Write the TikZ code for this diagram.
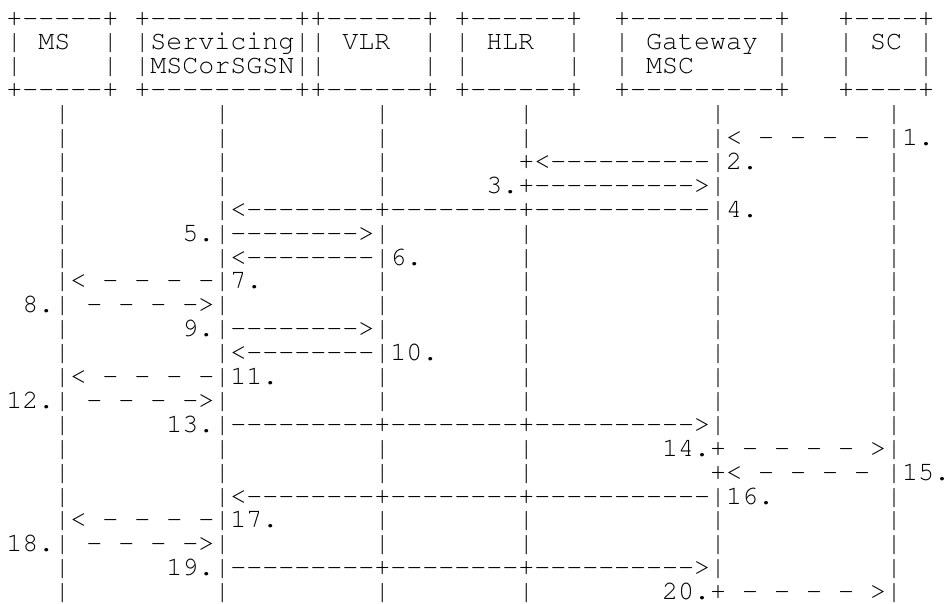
\documentclass[tikz,border=0pt]{standalone}
\usepackage[T1,TU]{fontenc}
\usepackage{tikz}

% a run of hyphens that the font may not join into dashes
\newcommand\dashrun[1]{\foreach\n in {1,...,#1}{-\kern0pt}}

\begin{document}
\begin{tikzpicture}[x=8pt,y=-11.95pt,
  ascii/.style={anchor=base west,inner sep=0pt,
                font=\fontencoding{T1}\fontfamily{pcr}\fontseries{m}\fontshape{n}%
                     \fontsize{13.33pt}{12pt}\selectfont}]

  \useasboundingbox (-0.375,-0.088) rectangle (58.875,25.184);

  % Entity boxes
  \node[ascii] (boxtop)   at (0,1) {+\dashrun{5}+~+\dashrun{9}++\dashrun{6}+~+\dashrun{6}+~~+\dashrun{9}+~~~+\dashrun{4}+};
  \node[ascii] (boxname)  at (0,2) {|~MS~~|~|Servicing||~VLR~~|~|~HLR~~|~~|~Gateway~|~~~|~SC~|};
  \node[ascii] (boxname2) at (0,3) {|~~~~~|~|MSCorSGSN||~~~~~~|~|~~~~~~|~~|~MSC~~~~~|~~~|~~~~|};
  \node[ascii] (boxbot)   at (0,4) {+\dashrun{5}+~+\dashrun{9}++\dashrun{6}+~+\dashrun{6}+~~+\dashrun{9}+~~~+\dashrun{4}+};

  % Lifelines
  \node[ascii] (life)  at (0,5)  {~~~|~~~~~~~~~|~~~~~~~~~|~~~~~~~~|~~~~~~~~~~~|~~~~~~~~~~|};

  % Messages 1-4
  \node[ascii] (msg1)  at (0,6)  {~~~|~~~~~~~~~|~~~~~~~~~|~~~~~~~~|~~~~~~~~~~~|<~-~-~-~-~|1.};
  \node[ascii] (msg2)  at (0,7)  {~~~|~~~~~~~~~|~~~~~~~~~|~~~~~~~~+<\dashrun{10}|2.~~~~~~~~|};
  \node[ascii] (msg3)  at (0,8)  {~~~|~~~~~~~~~|~~~~~~~~~|~~~~~~3.+\dashrun{10}>|~~~~~~~~~~|};
  \node[ascii] (msg4)  at (0,9)  {~~~|~~~~~~~~~|<\dashrun{8}+\dashrun{8}+\dashrun{11}|4.~~~~~~~~|};

  % Messages 5-8
  \node[ascii] (msg5)  at (0,10) {~~~|~~~~~~~5.|\dashrun{8}>|~~~~~~~~|~~~~~~~~~~~|~~~~~~~~~~|};
  \node[ascii] (msg6)  at (0,11) {~~~|~~~~~~~~~|<\dashrun{8}|6.~~~~~~|~~~~~~~~~~~|~~~~~~~~~~|};
  \node[ascii] (msg7)  at (0,12) {~~~|<~-~-~-~-|7.~~~~~~~|~~~~~~~~|~~~~~~~~~~~|~~~~~~~~~~|};
  \node[ascii] (msg8)  at (0,13) {~8.|~-~-~-~->|~~~~~~~~~|~~~~~~~~|~~~~~~~~~~~|~~~~~~~~~~|};

  % Messages 9-13
  \node[ascii] (msg9)  at (0,14) {~~~|~~~~~~~9.|\dashrun{8}>|~~~~~~~~|~~~~~~~~~~~|~~~~~~~~~~|};
  \node[ascii] (msg10) at (0,15) {~~~|~~~~~~~~~|<\dashrun{8}|10.~~~~~|~~~~~~~~~~~|~~~~~~~~~~|};
  \node[ascii] (msg11) at (0,16) {~~~|<~-~-~-~-|11.~~~~~~|~~~~~~~~|~~~~~~~~~~~|~~~~~~~~~~|};
  \node[ascii] (msg12) at (0,17) {12.|~-~-~-~->|~~~~~~~~~|~~~~~~~~|~~~~~~~~~~~|~~~~~~~~~~|};
  \node[ascii] (msg13) at (0,18) {~~~|~~~~~~13.|\dashrun{9}+\dashrun{8}+\dashrun{10}>|~~~~~~~~~~|};

  % Messages 14-20
  \node[ascii] (msg14) at (0,19) {~~~|~~~~~~~~~|~~~~~~~~~|~~~~~~~~|~~~~~~~~14.+~-~-~-~-~>|};
  \node[ascii] (msg15) at (0,20) {~~~|~~~~~~~~~|~~~~~~~~~|~~~~~~~~|~~~~~~~~~~~+<~-~-~-~-~|15.};
  \node[ascii] (msg16) at (0,21) {~~~|~~~~~~~~~|<\dashrun{8}+\dashrun{8}+\dashrun{11}|16.~~~~~~~|};
  \node[ascii] (msg17) at (0,22) {~~~|<~-~-~-~-|17.~~~~~~|~~~~~~~~|~~~~~~~~~~~|~~~~~~~~~~|};
  \node[ascii] (msg18) at (0,23) {18.|~-~-~-~->|~~~~~~~~~|~~~~~~~~|~~~~~~~~~~~|~~~~~~~~~~|};
  \node[ascii] (msg19) at (0,24) {~~~|~~~~~~19.|\dashrun{9}+\dashrun{8}+\dashrun{10}>|~~~~~~~~~~|};
  \node[ascii] (msg20) at (0,25) {~~~|~~~~~~~~~|~~~~~~~~~|~~~~~~~~|~~~~~~~~20.+~-~-~-~-~>|};

\end{tikzpicture}
\end{document}
